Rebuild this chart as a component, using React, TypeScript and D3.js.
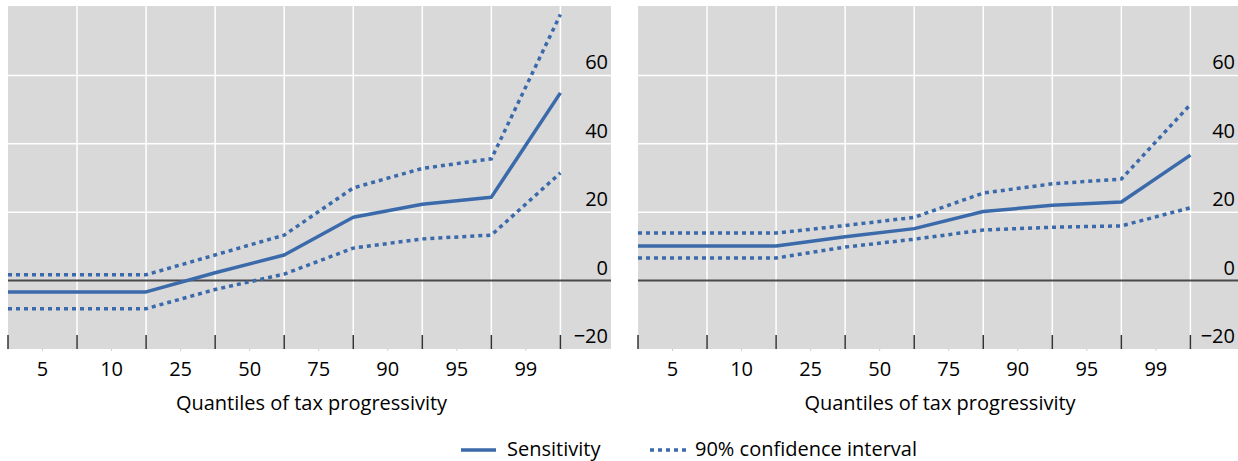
import React from "react";
import * as d3 from "d3";

const categories = ["5", "10", "25", "50", "75", "90", "95", "99"];
const yTicks = [-20, 0, 20, 40, 60];

// 9 points at the boundaries of the 8 quantile bands
const leftSensitivity = [-3.3, -3.3, -3.3, 2.3, 7.5, 18.5, 22.3, 24.4, 54.9];
const leftUpper = [1.7, 1.7, 1.7, 7.5, 13.3, 27.1, 32.8, 35.6, 77.8];
const leftLower = [-8.2, -8.2, -8.2, -2.6, 1.9, 9.5, 12.2, 13.3, 31.5];

const rightSensitivity = [10.1, 10.1, 10.1, 12.8, 15.2, 20.2, 22.0, 23.0, 36.7];
const rightUpper = [13.9, 13.9, 13.9, 16.1, 18.5, 25.6, 28.3, 29.7, 51.5];
const rightLower = [6.6, 6.6, 6.6, 9.8, 12.1, 14.8, 15.6, 16.0, 21.3];

const BLUE = "#3b6aab";
const BG = "#d9d9d9";
const FONT = "'Open Sans', sans-serif";

type PanelProps = {
  x0: number;
  x1: number;
  sens: number[];
  upper: number[];
  lower: number[];
};

function Panel({ x0, x1, sens, upper, lower }: PanelProps) {
  const top = 6;
  const bottom = 349;
  const bandW = 69.05;
  const xIdx = d3
    .scaleLinear()
    .domain([0, categories.length])
    .range([x0, x0 + bandW * categories.length]);
  const band = d3
    .scaleBand()
    .domain(categories)
    .range([x0, x0 + bandW * categories.length]);
  const y = d3.scaleLinear().domain([-20, 80]).range([bottom, top + 1]);
  const line = d3
    .line<number>()
    .x((_, i) => xIdx(i))
    .y((d) => y(d));
  const idx = d3.range(categories.length + 1);
  return (
    <g>
      <rect x={x0} y={top} width={x1 - x0} height={bottom - top} fill={BG} />
      {[20, 40, 60].map((v) => (
        <line key={"h" + v} x1={x0} x2={x1} y1={y(v)} y2={y(v)} stroke="#ffffff" strokeWidth={1.5} />
      ))}
      {idx.slice(1).map((i) => (
        <line key={"v" + i} x1={xIdx(i)} x2={xIdx(i)} y1={top} y2={bottom} stroke="#ffffff" strokeWidth={1.5} />
      ))}
      <line x1={x0} x2={x1} y1={y(0)} y2={y(0)} stroke="#4a4a4a" strokeWidth={2} />
      {idx.map((i) => (
        <line key={"t" + i} x1={xIdx(i)} x2={xIdx(i)} y1={bottom - 14} y2={bottom} stroke="#333" strokeWidth={1.5} />
      ))}
      {categories.map((c) => (
        <line
          key={"m" + c}
          x1={(band(c) as number) + band.bandwidth() / 2}
          x2={(band(c) as number) + band.bandwidth() / 2}
          y1={bottom}
          y2={bottom + 2}
          stroke="#cccccc"
          strokeWidth={1}
        />
      ))}
      <path d={line(upper) || ""} fill="none" stroke={BLUE} strokeWidth={3.5} strokeDasharray="4 4" />
      <path d={line(lower) || ""} fill="none" stroke={BLUE} strokeWidth={3.5} strokeDasharray="4 4" />
      <path d={line(sens) || ""} fill="none" stroke={BLUE} strokeWidth={3.5} strokeLinejoin="round" />
      {yTicks.map((v) => (
        <text
          key={"yl" + v}
          x={x1 - 3}
          y={y(v) - 6}
          textAnchor="end"
          fontFamily={FONT}
          fontSize={20}
          fill="#000"
        >
          {v < 0 ? "\u2212" + Math.abs(v) : v}
        </text>
      ))}
      {categories.map((c) => (
        <text
          key={"cl" + c}
          x={(band(c) as number) + band.bandwidth() / 2}
          y={376}
          textAnchor="middle"
          fontFamily={FONT}
          fontSize={20}
          fill="#000"
        >
          {c}
        </text>
      ))}
      <text
        x={(xIdx(0) + x1) / 2 + 2}
        y={410}
        textAnchor="middle"
        fontFamily={FONT}
        fontSize={20}
        fill="#000"
      >
        Quantiles of tax progressivity
      </text>
    </g>
  );
}

export default function App() {
  return (
    <svg
      width={1238}
      height={461}
      style={{ position: "absolute", left: 0, top: 0, background: "#fff" }}
    >
      <Panel x0={8} x1={611} sens={leftSensitivity} upper={leftUpper} lower={leftLower} />
      <Panel x0={638} x1={1238} sens={rightSensitivity} upper={rightUpper} lower={rightLower} />
      <g>
        <line x1={461} x2={496} y1={450} y2={450} stroke={BLUE} strokeWidth={3.5} />
        <text x={507} y={455.5} fontFamily={FONT} fontSize={20} fill="#000">
          Sensitivity
        </text>
        <line x1={650} x2={686} y1={450} y2={450} stroke={BLUE} strokeWidth={3.5} strokeDasharray="4 4" />
        <text x={695} y={455.5} fontFamily={FONT} fontSize={20} fill="#000">
          90% confidence interval
        </text>
      </g>
    </svg>
  );
}
